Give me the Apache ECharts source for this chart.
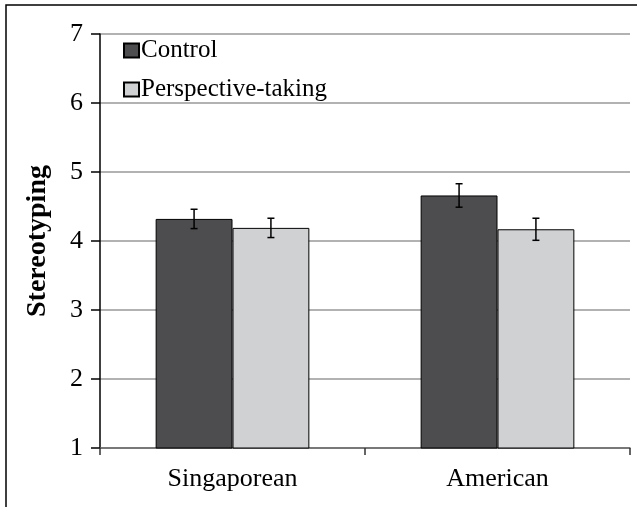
<!DOCTYPE html>
<html>
<head>
<meta charset="utf-8">
<script src="https://cdn.jsdelivr.net/npm/echarts@6/dist/echarts.min.js"></script>
<style>
	html, body { margin: 0; padding: 0; background: #fff; }
	#main { width: 637px; height: 507px; }
</style>
</head>
<body>
<div id="main"></div>
<script>
// 数据
var categories = ['Singaporean', 'American'];
var controlMeans = [4.32, 4.66];
var controlErr = [0.14, 0.17];
var ptMeans = [4.19, 4.17];
var ptErr = [0.14, 0.16];
var yTicks = [1, 2, 3, 4, 5, 6, 7];

var serif = '"Liberation Serif", "DejaVu Serif", serif';
var gapPct = 0.42;

var myChart = echarts.init(document.getElementById('main'));

// 误差线
function errorRender(side) {
	return function(params, api) {
		var idx = api.value(0);
		var mean = api.value(1);
		var err = api.value(2);
		var band = api.size([1, 0])[0];
		var bw = band * (1 - gapPct) / 2;
		var c = api.coord([idx, mean]);
		var x = c[0] + side * bw / 2;
		var top = api.coord([idx, mean + err])[1];
		var bot = api.coord([idx, mean - err])[1];
		var cap = 3.5;
		var style = { stroke: '#000', lineWidth: 1.5 };
		return {
			type: 'group',
			children: [
				{ type: 'line', shape: { x1: x, y1: top, x2: x, y2: bot }, style: style },
				{ type: 'line', shape: { x1: x - cap, y1: top, x2: x + cap, y2: top }, style: style },
				{ type: 'line', shape: { x1: x - cap, y1: bot, x2: x + cap, y2: bot }, style: style }
			]
		};
	};
}

var option = {
	animation: false,
	backgroundColor: '#fff',
	graphic: [{
		type: 'rect',
		shape: { x: 6, y: 5, width: 700, height: 600 },
		style: { fill: 'none', stroke: '#000', lineWidth: 1.5 },
		silent: true
	}],
	grid: { left: 100, right: 7, top: 34, bottom: 59 },
	legend: {
		orient: 'vertical',
		left: 118,
		top: 33,
		itemWidth: 15,
		itemHeight: 14,
		itemGap: 14,
		icon: 'rect',
		data: ['Control', 'Perspective-taking'],
		textStyle: { fontFamily: serif, fontSize: 25, color: '#000', padding: [0, 0, 0, -3] }
	},
	xAxis: {
		type: 'category',
		data: categories,
		axisLine: { lineStyle: { color: '#666', width: 1.5 } },
		axisTick: { show: true, length: 7, lineStyle: { color: '#333', width: 1.5 } },
		axisLabel: { fontFamily: serif, fontSize: 26, color: '#000', margin: 18 }
	},
	yAxis: {
		type: 'value',
		min: 1,
		max: 7,
		interval: 1,
		name: 'Stereotyping',
		nameLocation: 'middle',
		nameGap: 48,
		nameTextStyle: { fontFamily: serif, fontSize: 28, fontWeight: 'bold', color: '#000' },
		axisLine: { show: true, lineStyle: { color: '#000', width: 1.5 } },
		axisTick: { show: true, length: 9, lineStyle: { color: '#000', width: 1.5 } },
		axisLabel: {
			fontFamily: serif, fontSize: 26, color: '#000', margin: 17,
			formatter: function(v) { return yTicks.indexOf(v) >= 0 ? String(v) : ''; }
		},
		splitLine: { lineStyle: { color: '#999', width: 1.5 } }
	},
	series: [
		{
			name: 'Control',
			type: 'bar',
			data: controlMeans,
			barGap: '0%',
			barCategoryGap: (gapPct * 100) + '%',
			itemStyle: { color: '#4d4d4f', borderColor: '#000', borderWidth: 1 }
		},
		{
			name: 'Perspective-taking',
			type: 'bar',
			data: ptMeans,
			itemStyle: { color: '#d0d1d3', borderColor: '#000', borderWidth: 1 }
		},
		{
			type: 'custom',
			renderItem: errorRender(-1),
			data: controlMeans.map(function(m, i) { return [i, m, controlErr[i]]; }),
			z: 10
		},
		{
			type: 'custom',
			renderItem: errorRender(1),
			data: ptMeans.map(function(m, i) { return [i, m, ptErr[i]]; }),
			z: 10
		}
	]
};

option && myChart.setOption(option);
</script>
</body>
</html>
